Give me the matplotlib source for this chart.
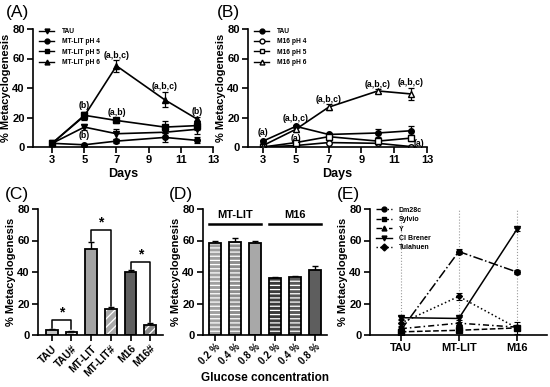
import matplotlib
matplotlib.use("Agg")
import matplotlib.pyplot as plt
from matplotlib.lines import Line2D

plt.rcParams['font.family'] = ['Liberation Sans', 'DejaVu Sans']
plt.rcParams['font.weight'] = 'bold'
plt.rcParams['hatch.linewidth'] = 0.9

# ---------------- data ----------------
days = [3, 5, 7, 10, 12]
a_tau = [2.5, 13.5, 9, 10, 12]
a_tau_err = [1, 2, 3.5, 3, 3]
a_ph4 = [2.5, 1.5, 4, 6.5, 4.5]
a_ph4_err = [0.5, 0.5, 1.5, 3, 2]
a_ph5 = [2.5, 21.5, 18, 13.5, 14.5]
a_ph5_err = [1.5, 2.5, 2, 4, 3]
a_ph6 = [2.5, 21, 55, 32, 19]
a_ph6_err = [1, 3, 4, 5, 1.5]
a_labels = ['TAU', 'MT-LIT pH 4', 'MT-LIT pH 5', 'MT-LIT pH 6']

b_tau = [4, 14, 8.5, 9.5, 11]
b_tau_err = [1, 1, 1, 3, 3]
b_ph4 = [0, 1, 3, 2.5, 0.3]
b_ph4_err = [0.3, 0.5, 0.5, 0.5, 0.3]
b_ph5 = [0, 3, 7, 4, 6]
b_ph5_err = [0.5, 1, 1, 1.5, 2]
b_ph6 = [1, 12, 27, 38, 36]
b_ph6_err = [0.5, 1.5, 2, 1.5, 4]
b_labels = ['TAU', 'M16 pH 4', 'M16 pH 5', 'M16 pH 6']

c_cats = ['TAU', 'TAU#', 'MT-LIT', 'MT-LIT#', 'M16', 'M16#']
c_vals = [3, 2, 54.5, 16.5, 40, 6.5]
c_err = [0.6, 0.6, 4.5, 1.5, 1.5, 1.2]

d_cats = ['0.2 %', '0.4 %', '0.8 %', '0.2 %', '0.4 %', '0.8 %']
d_vals = [58.5, 59, 58.5, 36, 37, 41]
d_err = [1.5, 2.5, 1.5, 0.8, 0.5, 2.5]
d_groups = ['MT-LIT', 'M16']

e_cats = ['TAU', 'MT-LIT', 'M16']
e_dm28c = [3, 53, 40]
e_dm28c_err = [0.5, 1.5, 1]
e_sylvio = [2, 3, 4.5]
e_sylvio_err = [0.5, 0.5, 0.5]
e_y = [4, 7.5, 5]
e_y_err = [1, 1, 1]
e_clbrener = [11, 10.5, 67]
e_clbrener_err = [1, 1, 1]
e_tulahuen = [7.5, 24.5, 4.5]
e_tulahuen_err = [2, 2, 4]
e_labels = ['Dm28c', 'Sylvio', 'Y', 'Cl Brener', 'Tulahuen']

# ---------------- figure ----------------
W, H = 550, 387
fig = plt.figure(figsize=(5.5, 3.87), dpi=100)


def ax_px(l, t, r, b):
    return fig.add_axes([l / W, 1 - b / H, (r - l) / W, (b - t) / H])


def style(ax):
    for s in ['top', 'right']:
        ax.spines[s].set_visible(False)
    for s in ['left', 'bottom']:
        ax.spines[s].set_linewidth(1.2)
    ax.tick_params(width=1.2, length=4, labelsize=8, pad=2)
    for lab in ax.get_xticklabels() + ax.get_yticklabels():
        lab.set_fontweight('bold')
    ax.set_ylim(0, 80)
    ax.set_yticks([0, 20, 40, 60, 80])


def line_panel(ax, series, errs, markers, faces, labels, xlim):
    for y, e, m, fc, lab in zip(series, errs, markers, faces, labels):
        ax.errorbar(days, y, yerr=e, color='black', marker=m, markersize=4,
                    markerfacecolor=fc, markeredgecolor='black', lw=1.2,
                    elinewidth=0.9, capsize=2.2, capthick=0.9, label=lab)
    ax.set_xlim(*xlim)
    ax.set_xticks([3, 5, 7, 9, 11, 13])
    style(ax)
    ax.set_xlabel('Days', fontsize=9, fontweight='bold', labelpad=2)
    ax.set_ylabel('% Metacyclogenesis', fontsize=8, fontweight='bold', labelpad=1)
    handles = [Line2D([], [], color='black', marker=m, markersize=3.5,
                      markerfacecolor=fc, lw=1) for m, fc in zip(markers, faces)]
    leg = ax.legend(handles, labels, loc='upper left', bbox_to_anchor=(0.02, 1.03),
                    frameon=False, fontsize=4.8, handlelength=2.2,
                    labelspacing=0.5, handletextpad=1.2, borderaxespad=0)
    for t in leg.get_texts():
        t.set_fontweight('bold')


# Panel A
axA = ax_px(33, 29, 213, 147)
line_panel(axA, [a_tau, a_ph4, a_ph5, a_ph6],
           [a_tau_err, a_ph4_err, a_ph5_err, a_ph6_err],
           ['v', 'o', 's', '^'], ['black'] * 4, a_labels, (1.81, 13))
ann_kw = dict(fontsize=6.3, fontweight='bold', ha='center', va='center')
axA.text(7, 62, '(a,b,c)', **ann_kw)
axA.text(10, 41, '(a,b,c)', **ann_kw)
axA.text(12, 24, '(b)', **ann_kw)
axA.text(5, 28, '(b)', **ann_kw)
axA.text(7, 23.5, '(a,b)', **ann_kw)
axA.text(5, 7.5, '(b)', **ann_kw)

# Panel B
axB = ax_px(248, 29, 427, 147)
line_panel(axB, [b_tau, b_ph4, b_ph5, b_ph6],
           [b_tau_err, b_ph4_err, b_ph5_err, b_ph6_err],
           ['o', 'o', 's', '^'], ['black', 'white', 'white', 'white'],
           b_labels, (2.08, 13))
axB.text(3, 10, '(a)', **ann_kw)
axB.text(5, 19.5, '(a,b,c)', **ann_kw)
axB.text(5, 6, '(a)', **ann_kw)
axB.text(7, 32.5, '(a,b,c)', **ann_kw)
axB.text(10, 42.5, '(a,b,c)', **ann_kw)
axB.text(12, 44, '(a,b,c)', **ann_kw)
axB.text(12.5, 2.5, '(a)', **ann_kw)


def hatched_bars(ax, xs, vals, errs, faces, hatches):
    for x, v, fc, h in zip(xs, vals, faces, hatches):
        ax.bar(x, v, width=0.6, color=fc, edgecolor='white' if h else fc,
               hatch=h, linewidth=0, zorder=2)
    ax.bar(xs, vals, width=0.6, fill=False, edgecolor='black', linewidth=1.3, zorder=3)
    ax.errorbar(xs, vals, yerr=[[0] * len(vals), errs], fmt='none', ecolor='black',
                elinewidth=1, capsize=2.5, capthick=1, zorder=1)


# Panel C
axC = ax_px(38, 209, 163, 335)
xc = list(range(len(c_cats)))
hatched_bars(axC, xc, c_vals, c_err,
             ['#c4c4c4', '#b0b0b0', '#a3a3a3', '#a8a8a8', '#5f5f5f', '#8a8a8a'],
             [None, '////', None, '////', None, '////'])
axC.set_xlim(-0.7, 5.65)
style(axC)
axC.set_xticks(xc)
axC.set_xticklabels(c_cats, rotation=45, ha='right', rotation_mode='anchor',
                    fontsize=7.5, fontweight='bold')
axC.set_ylabel('% Metacyclogenesis', fontsize=8, fontweight='bold', labelpad=1)


def bracket(ax, x1, x2, y1, y2, top):
    ax.plot([x1, x1, x2, x2], [y1, top, top, y2], color='black', lw=1.1, zorder=4)
    ax.text((x1 + x2) / 2, top + 0.5, '*', ha='center', va='bottom', fontsize=10,
            fontweight='bold')


bracket(axC, 0, 1, 4.5, 3.5, 9.5)
bracket(axC, 2, 3, 59.5, 18.5, 66.5)
bracket(axC, 4, 5, 42, 8, 46.5)

# Panel D
axD = ax_px(203, 209, 327, 335)
xd = list(range(len(d_cats)))
hatched_bars(axD, xd, d_vals, d_err,
             ['#a0a0a0', '#8e8e8e', '#a8a8a8', '#3a3a3a', '#5a5a5a', '#5e5e5e'],
             ['----', '----', None, '----', '----', None])
axD.set_xlim(-0.6, 5.6)
style(axD)
axD.set_xticks(xd)
axD.set_xticklabels(d_cats, rotation=45, ha='right', rotation_mode='anchor',
                    fontsize=7, fontweight='bold')
axD.tick_params(axis='x', pad=1)
axD.set_ylabel('% Metacyclogenesis', fontsize=8, fontweight='bold', labelpad=1)
axD.set_xlabel('Glucose concentration', fontsize=8.5, fontweight='bold', labelpad=4)
for (g0, g1), name in zip([(0, 2), (3, 5)], d_groups):
    axD.plot([g0 - 0.3, g1 + 0.3], [70.5, 70.5], color='black', lw=1.8, clip_on=False)
    axD.text((g0 + g1) / 2, 76, name, ha='center', va='center', fontsize=8,
             fontweight='bold')

# Panel E
axE = ax_px(370, 209, 547, 335)
xe = list(range(len(e_cats)))
for xv in xe:
    axE.axvline(xv, color='#9a9a9a', lw=0.8, ls=':', zorder=0)
e_series = [e_dm28c, e_sylvio, e_y, e_clbrener, e_tulahuen]
e_errs = [e_dm28c_err, e_sylvio_err, e_y_err, e_clbrener_err, e_tulahuen_err]
e_markers = ['o', 's', '^', 'v', 'D']
e_styles = ['-.', '--', (0, (4, 2, 1, 2)), '-', ':']
e_msize = [4, 4, 4, 4, 3]
for y, er, m, ls, ms in zip(e_series, e_errs, e_markers, e_styles, e_msize):
    axE.errorbar(xe, y, yerr=er, color='black', marker=m, markersize=ms, ls=ls,
                 lw=1.1, elinewidth=0.8, capsize=2, capthick=0.8)
axE.set_xlim(-0.53, 2.52)
style(axE)
axE.set_xticks(xe)
axE.set_xticklabels(e_cats, fontsize=8, fontweight='bold')
axE.set_ylabel('% Metacyclogenesis', fontsize=8, fontweight='bold', labelpad=1)
e_handles = [Line2D([], [], color='black', marker=m, markersize=3.5, ls=ls, lw=1)
             for m, ls in zip(e_markers, e_styles)]
legE = axE.legend(e_handles, e_labels, loc='upper left', bbox_to_anchor=(0.02, 1.04),
                  frameon=False, fontsize=5, handlelength=2.2, labelspacing=0.35,
                  handletextpad=1.0, borderaxespad=0)
for t in legE.get_texts():
    t.set_fontweight('bold')

# panel labels
for lab, x, y in [('(A)', 6, 13), ('(B)', 217, 13), ('(C)', 5, 194),
                  ('(D)', 169, 194), ('(E)', 337, 194)]:
    fig.text(x / W, 1 - y / H, lab, fontsize=12.5, fontweight='normal',
             ha='left', va='center')

fig.savefig('out.png', dpi=100)
